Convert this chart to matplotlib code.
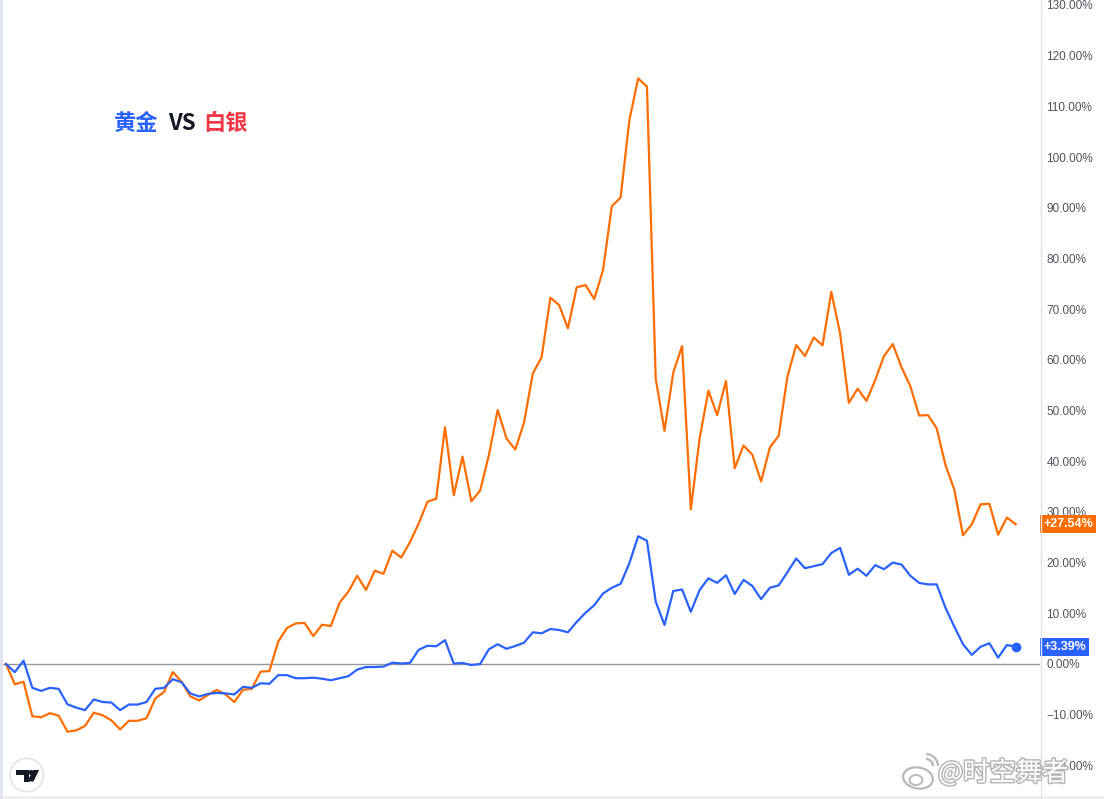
"""Gold vs silver relative performance chart (TradingView style)."""

import matplotlib

matplotlib.use("Agg")
import matplotlib.pyplot as plt
import matplotlib.patheffects as pe
from matplotlib.patches import Circle, Ellipse, Polygon, Arc
from matplotlib.lines import Line2D
from matplotlib.ticker import FuncFormatter

W, H = 1104, 799

# percent change since start, one value per bar
gold = [
    0, -1.6, 0.65, -4.7, -5.3, -4.7, -4.9, -7.95, -8.6, -9.1,
    -7.0, -7.5, -7.6, -9.1, -8.0, -8.0, -7.5, -4.9, -4.7, -3.0,
    -3.6, -5.8, -6.4, -5.9, -5.7, -5.8, -6.0, -4.5, -4.7, -3.8,
    -3.9, -2.2, -2.2, -2.8, -2.8, -2.7, -2.9, -3.2, -2.8, -2.4,
    -1.1, -0.6, -0.6, -0.5, 0.26, 0.1, 0.2, 2.8, 3.6, 3.5,
    4.7, 0.1, 0.2, -0.2, 0.0, 2.9, 3.9, 3.0, 3.55, 4.2,
    6.25, 6.05, 6.9, 6.7, 6.25, 8.3, 10.1, 11.6, 13.9, 15.05,
    15.8, 19.9, 25.2, 24.3, 12.3, 7.7, 14.4, 14.7, 10.3, 14.6,
    16.9, 16.0, 17.5, 13.8, 16.6, 15.4, 12.8, 15.05, 15.5, 18.1,
    20.8, 18.9, 19.3, 19.7, 21.9, 22.9, 17.6, 18.8, 17.4, 19.5,
    18.7, 20.0, 19.6, 17.4, 16.0, 15.7, 15.7, 11.1, 7.4, 3.9,
    1.8, 3.4, 4.1, 1.25, 3.75, 3.39,
]
silver = [
    0, -4.0, -3.5, -10.3, -10.5, -9.7, -10.2, -13.35, -13.1, -12.2,
    -9.6, -10.1, -11.1, -12.9, -11.2, -11.2, -10.7, -6.8, -5.5, -1.6,
    -3.5, -6.4, -7.2, -6.1, -5.1, -6.0, -7.5, -5.1, -4.9, -1.5,
    -1.4, 4.4, 7.1, 8.0, 8.1, 5.5, 7.75, 7.5, 12.1, 14.3,
    17.4, 14.6, 18.4, 17.8, 22.35, 21.0, 24.0, 27.7, 32.0, 32.6,
    46.7, 33.3, 40.9, 32.1, 34.2, 41.2, 50.1, 44.5, 42.3, 47.6,
    57.3, 60.5, 72.25, 70.8, 66.2, 74.3, 74.75, 72.0, 77.7, 90.3,
    92.0, 107.3, 115.5, 113.9, 56.3, 46.0, 57.5, 62.7, 30.5, 44.5,
    53.9, 49.1, 55.8, 38.6, 43.1, 41.3, 36.0, 42.7, 45.0, 56.7,
    62.9, 60.75, 64.4, 62.85, 73.4, 65.2, 51.5, 54.3, 51.9, 56.0,
    60.75, 63.1, 58.5, 54.8, 49.0, 49.1, 46.5, 39.25, 34.45, 25.4,
    27.55, 31.5, 31.6, 25.5, 28.9, 27.54,
]
y_ticks = list(range(-20, 131, 10))

GOLD_COLOR = "#2962ff"
SILVER_COLOR = "#ff6d00"
TITLE_RED = "#f23645"
TEXT_COLOR = "#50535e"
BORDER = "#e0e3eb"

CJK = ["Noto Sans CJK SC", "DejaVu Sans"]


def px(x, y):
    """Pixel position (top-left origin) to figure fraction."""
    return x / W, 1 - y / H


def pct(v, _=None):
    """Price-scale label, with a real minus sign."""
    return f"{v:.2f}%".replace("-", "\u2212")


def draw_logo(fig):
    """TradingView badge in the lower-left corner."""
    fig.patches.append(
        Circle((26.7, H - 775), 16.7, transform=None,
               facecolor="white", edgecolor=BORDER, lw=1.2, zorder=5)
    )
    shapes = [
        [(16, 770), (29, 770), (29, 781.5), (23.5, 781.5), (23.5, 775),
         (16, 775)],
        [(33, 770), (39, 770), (33.5, 781.5), (27.5, 781.5)],
    ]
    for pts in shapes:
        fig.patches.append(
            Polygon([(x, H - y) for x, y in pts], closed=True, transform=None,
                    facecolor="#131722", edgecolor="none", zorder=6)
        )
    fig.patches.append(
        Circle((31.0, H - 772.5), 2.5, transform=None,
               facecolor="#131722", edgecolor="none", zorder=6)
    )


def draw_watermark(fig):
    """Weibo watermark in the lower-right corner."""
    stroke = [pe.withStroke(linewidth=2.2, foreground="#b8b8b8")]
    fig.text(*px(938, 773), "@时空舞者", family=CJK, fontsize=19,
             color="white", ha="left", va="center", zorder=10,
             path_effects=stroke)
    fig.patches.append(
        Ellipse((918, H - 778), 30, 21, angle=-10, transform=None,
                facecolor="white", edgecolor="#b8b8b8", lw=1.6, zorder=9)
    )
    fig.patches.append(
        Ellipse((916, H - 780), 13, 10, transform=None,
                facecolor="white", edgecolor="#b8b8b8", lw=1.4, zorder=9)
    )
    for r in (7, 12):
        fig.patches.append(
            Arc((926, H - 766), r * 2, r * 2, theta1=0, theta2=90,
                transform=None, edgecolor="#b8b8b8", lw=1.6, zorder=9)
        )


def main():
    fig = plt.figure(figsize=(W / 100, H / 100), dpi=100)
    fig.patch.set_facecolor("white")

    # plot area spans pixel x 0..1040, y 0..797
    ax = fig.add_axes([0, 2 / H, 1040 / W, 797 / H])
    x0_px, step_px = 6.0, 8.78
    ax.set_xlim(-x0_px / step_px, (1040 - x0_px) / step_px)
    ax.set_ylim((664 - 797) / 5.07, 664 / 5.07)

    idx = list(range(len(gold)))
    ax.axhline(0, color="#9598a1", lw=1.0, zorder=1)
    ax.plot(idx, silver, color=SILVER_COLOR, lw=1.6, zorder=3)
    ax.plot(idx, gold, color=GOLD_COLOR, lw=1.6, zorder=4)
    ax.plot(idx[-1], gold[-1], "o", color=GOLD_COLOR, ms=6, zorder=5)

    for side in ("top", "left", "bottom", "right"):
        ax.spines[side].set_visible(False)
    ax.set_xticks([])
    ax.yaxis.tick_right()
    ax.set_yticks(y_ticks)
    ax.yaxis.set_major_formatter(FuncFormatter(pct))
    ax.tick_params(axis="y", length=0, pad=4.5, labelsize=8.5,
                   labelcolor=TEXT_COLOR)
    for lab in ax.get_yticklabels():
        lab.set_family("Liberation Sans")

    # last-value badges on the price scale
    for series, color in ((silver, SILVER_COLOR), (gold, GOLD_COLOR)):
        ax.annotate(
            f"+{series[-1]:.2f}%", xy=(1.0, series[-1]),
            xycoords=("axes fraction", "data"), xytext=(2.5, 0),
            textcoords="offset points", ha="left", va="center",
            fontsize=9, family="Liberation Sans", color="white",
            fontweight="bold", zorder=8, annotation_clip=False,
            bbox=dict(boxstyle="square,pad=0.25", fc=color, ec="none"),
        )

    # frame lines: left edge, price-scale border, bottom edge
    fig.lines.append(Line2D([1.2, 1.2], [0, H], transform=None,
                            color="#dfe1ee", lw=2.0))
    fig.lines.append(Line2D([1040.5, 1040.5], [0, H], transform=None,
                            color=BORDER, lw=1.0))
    fig.lines.append(Line2D([0, W], [H - 797, H - 797], transform=None,
                            color=BORDER, lw=1.0))

    # title
    title_parts = [("黄金", GOLD_COLOR, 114), ("VS", "#131722", 168),
                   ("白银", TITLE_RED, 203)]
    for text, color, x in title_parts:
        fig.text(*px(x, 123), text, family=CJK, fontsize=16,
                 fontweight="bold", color=color, ha="left", va="center")

    draw_logo(fig)
    draw_watermark(fig)

    fig.savefig("out.png", dpi=100, facecolor="white")
    plt.close(fig)


if __name__ == "__main__":
    main()
